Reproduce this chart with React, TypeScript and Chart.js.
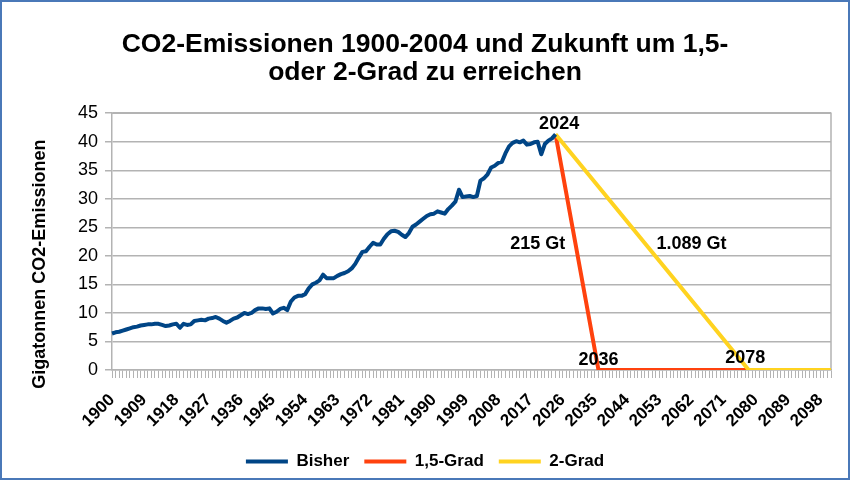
import React, { useEffect, useRef } from 'react';
import { Chart, registerables } from 'chart.js';

Chart.register(...registerables);

const FIRST_YEAR = 1900;
const LAST_YEAR = 2101;
const years: string[] = Array.from({ length: LAST_YEAR - FIRST_YEAR + 1 }, (_, i) => String(FIRST_YEAR + i));

// Bisher: 1900 .. 2024
const bisher: number[] = [
  6.4, 6.6, 6.7, 6.9, 7.1, 7.3, 7.5, 7.6, 7.8, 7.9,
  8.0, 8.0, 8.1, 8.1, 7.9, 7.7, 7.8, 8.0, 8.1, 7.4,
  8.1, 7.9, 8.0, 8.6, 8.7, 8.8, 8.7, 9.0, 9.1, 9.3,
  9.0, 8.6, 8.3, 8.6, 9.0, 9.2, 9.6, 10.0, 9.8, 10.0,
  10.5, 10.8, 10.8, 10.7, 10.8, 9.9, 10.2, 10.7, 10.9, 10.5,
  12.0, 12.7, 13.0, 13.0, 13.3, 14.3, 15.0, 15.3, 15.7, 16.7,
  16.1, 16.1, 16.1, 16.5, 16.8, 17.0, 17.3, 17.8, 18.6, 19.7,
  20.7, 20.8, 21.6, 22.3, 22.0, 22.0, 23.0, 23.8, 24.3, 24.4,
  24.2, 23.7, 23.3, 24.0, 25.1, 25.5, 26.0, 26.5, 27.0, 27.3,
  27.4, 27.8, 27.6, 27.4, 28.2, 28.8, 29.5, 31.6, 30.3, 30.4,
  30.5, 30.3, 30.5, 33.2, 33.6, 34.3, 35.5, 35.8, 36.3, 36.5,
  38.0, 39.2, 39.8, 40.1, 39.9, 40.2, 39.5, 39.6, 39.9, 40.0,
  37.8, 39.6, 40.2, 40.6, 41.3,
];

const grad15Years: string[] = ['2024', '2036', '2101'];
const grad15Values: number[] = [41.3, 0, 0];
const grad2Years: string[] = ['2024', '2078', '2101'];
const grad2Values: number[] = [41.3, 0, 0];

const seriesNames: string[] = ['Bisher', '1,5-Grad', '2-Grad'];
const seriesColors: string[] = ['#004586', '#ff420e', '#ffd320'];

const noteTexts: string[] = ['2024', '2036', '2078', '215 Gt', '1.089 Gt'];
const noteYears: string[] = ['2025', '2036', '2077', '2019', '2062'];
const noteValues: number[] = [43.1, 1.7, 2.1, 22.0, 22.0];

const titleLines: string[] = ['CO2-Emissionen 1900-2004 und Zukunft um 1,5-', 'oder 2-Grad zu erreichen'];
const yTitle = 'Gigatonnen CO2-Emissionen';
const LABEL_EVERY = 9;

const FONT = "'Liberation Sans', Arial, sans-serif";
const GRID = '#b3b3b3';

const notesPlugin = {
  id: 'notes',
  afterDatasetsDraw(chart: any) {
    const { ctx, scales } = chart;
    ctx.save();
    ctx.font = `bold 18px ${FONT}`;
    ctx.fillStyle = '#000';
    ctx.textAlign = 'center';
    ctx.textBaseline = 'middle';
    noteTexts.forEach((t, i) => {
      const x = scales.x.getPixelForValue(years.indexOf(noteYears[i]));
      const y = scales.y.getPixelForValue(noteValues[i]);
      ctx.fillText(t, x, y);
    });
    ctx.restore();
  },
};

const framePlugin = {
  id: 'frame',
  beforeDatasetsDraw(chart: any) {
    const { ctx, chartArea } = chart;
    ctx.save();
    ctx.strokeStyle = GRID;
    ctx.lineWidth = 1.5;
    ctx.beginPath();
    ctx.moveTo(chartArea.left, chartArea.top);
    ctx.lineTo(chartArea.right, chartArea.top);
    ctx.lineTo(chartArea.right, chartArea.bottom);
    ctx.stroke();
    ctx.restore();
  },
};

const yTitlePlugin = {
  id: 'ytitle',
  afterDraw(chart: any) {
    const { ctx, chartArea } = chart;
    ctx.save();
    ctx.font = `bold 18px ${FONT}`;
    ctx.fillStyle = '#000';
    ctx.textAlign = 'center';
    ctx.textBaseline = 'middle';
    ctx.translate(chartArea.left - 71.5, (chartArea.top + chartArea.bottom) / 2 + 22.5);
    ctx.rotate(-Math.PI / 2);
    ctx.fillText(yTitle, 0, 0);
    ctx.restore();
  },
};

export default function App() {
  const ref = useRef<HTMLCanvasElement | null>(null);

  useEffect(() => {
    document.body.style.margin = '0';
    if (!ref.current) return;
    const chart = new Chart(ref.current, {
      type: 'line',
      data: {
        labels: years,
        datasets: [
          {
            label: seriesNames[0],
            data: bisher,
            borderColor: seriesColors[0],
            backgroundColor: seriesColors[0],
            borderWidth: 4,
            pointRadius: 0,
            borderJoinStyle: 'round',
            order: 0,
          },
          {
            label: seriesNames[1],
            data: grad15Years.map((x, i) => ({ x, y: grad15Values[i] })),
            borderColor: seriesColors[1],
            backgroundColor: seriesColors[1],
            borderWidth: 4,
            pointRadius: 0,
            borderJoinStyle: 'round',
            order: 2,
          },
          {
            label: seriesNames[2],
            data: grad2Years.map((x, i) => ({ x, y: grad2Values[i] })),
            borderColor: seriesColors[2],
            backgroundColor: seriesColors[2],
            borderWidth: 4,
            pointRadius: 0,
            borderJoinStyle: 'round',
            order: 1,
          },
        ] as any,
      },
      options: {
        animation: false,
        responsive: true,
        maintainAspectRatio: false,
        layout: { padding: 0 },
        plugins: {
          tooltip: { enabled: false },
          title: {
            display: true,
            text: titleLines,
            color: '#000',
            font: { family: FONT, size: 26.5, weight: 'bold', lineHeight: 1.08 },
            padding: { top: 30, bottom: 26 },
          },
          legend: {
            position: 'bottom',
            labels: {
              usePointStyle: true,
              pointStyle: 'line',
              pointStyleWidth: 42,
              padding: 15,
              color: '#000',
              font: { family: FONT, size: 17, weight: 'bold' },
              sort: (a: any, b: any) => a.datasetIndex - b.datasetIndex,
            },
          },
        },
        scales: {
          x: {
            type: 'category',
            offset: false,
            grid: {
              display: true,
              drawOnChartArea: false,
              drawTicks: true,
              tickLength: 8,
              color: GRID,
              lineWidth: 1,
              offset: false,
            },
            border: { display: true, color: GRID, width: 1.5 },
            ticks: {
              autoSkip: false,
              minRotation: 45,
              maxRotation: 45,
              padding: 12,
              color: '#000',
              font: { family: FONT, size: 17, weight: 'bold' },
              callback: function (this: any, value: any, index: number) {
                return index % LABEL_EVERY === 0 ? this.getLabelForValue(value) : '';
              },
            },
            afterFit(scale: any) {
              scale.height = 68;
              scale.paddingRight = 0;
              scale.paddingLeft = 0;
            },
          },
          y: {
            min: 0,
            max: 45,
            ticks: {
              stepSize: 5,
              padding: 7,
              color: '#000',
              font: { family: FONT, size: 18 },
            },
            grid: { color: GRID, lineWidth: 1.5, tickLength: 7 },
            border: { display: true, color: GRID, width: 1.5 },
            afterFit(scale: any) {
              scale.width = 112;
            },
          },
          y2: {
            position: 'right',
            display: true,
            grid: { display: false, drawTicks: false },
            border: { display: false },
            ticks: { display: false },
            afterFit(scale: any) {
              scale.width = 19;
            },
          },
        },
      },
      plugins: [framePlugin, notesPlugin, yTitlePlugin],
    });
    return () => chart.destroy();
  }, []);

  return (
    <div style={{ position: 'relative', width: 850, height: 480, background: '#fff' }}>
      <canvas ref={ref} />
      <div
        style={{
          position: 'absolute',
          inset: 0,
          border: '2px solid #4a78b8',
          boxSizing: 'border-box',
          pointerEvents: 'none',
        }}
      />
    </div>
  );
}
